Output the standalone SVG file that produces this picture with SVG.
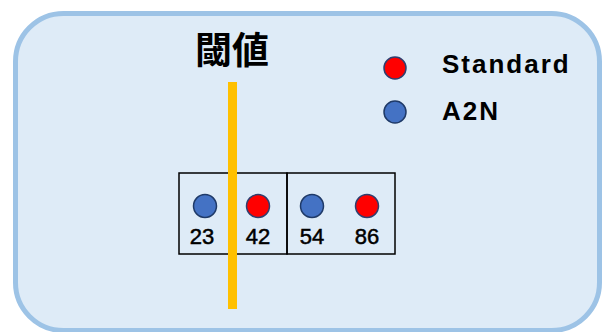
<svg xmlns="http://www.w3.org/2000/svg" width="604" height="332" viewBox="0 0 604 332">
<style>
.lbl{font-family:"Liberation Sans","Noto Sans CJK JP",Arial,sans-serif;font-weight:bold;fill:#000}
.num{font-family:"Liberation Sans",Arial,sans-serif;font-size:22px;fill:#000;stroke:#000;stroke-width:0.5;text-anchor:middle}
.red{fill:#FF0000;stroke:#2F3F6F;stroke-width:1.5}
.blue{fill:#4472C4;stroke:#1F3A68;stroke-width:1.5}
.box{fill:none;stroke:#000;stroke-width:1.5}
</style>
<g id="panel">
<rect x="15.5" y="13.5" width="584" height="317" rx="48" ry="48" fill="#DEEBF7" stroke="#9DC3E6" stroke-width="5"/>
</g>
<g id="title">
<text x="232" y="64" font-family="'Noto Sans CJK JP',sans-serif" font-weight="bold" font-size="37" text-anchor="middle">閾値</text>
</g>
<g id="legend">
<circle class="red" cx="395" cy="68" r="11"/>
<text class="lbl" x="442" y="73" font-size="26" letter-spacing="2">Standard</text>
<circle class="blue" cx="395" cy="112" r="11"/>
<text class="lbl" x="442" y="120" font-size="26" letter-spacing="2">A2N</text>
</g>
<g id="box-left">
<rect class="box" x="179" y="173" width="108" height="81"/>
<circle class="blue" cx="205" cy="206" r="11.5"/>
<text class="num" x="202" y="244">23</text>
<circle class="red" cx="258" cy="206" r="11.5"/>
<text class="num" x="258" y="244">42</text>
</g>
<g id="box-right">
<rect class="box" x="287" y="173" width="108" height="81"/>
<circle class="blue" cx="312" cy="206" r="11.5"/>
<text class="num" x="312" y="244">54</text>
<circle class="red" cx="367" cy="206" r="11.5"/>
<text class="num" x="367" y="244">86</text>
</g>
<g id="connectors">
<line id="threshold" x1="232.5" y1="82" x2="232.5" y2="309" stroke="#FFC000" stroke-width="9"/>
</g>
</svg>
